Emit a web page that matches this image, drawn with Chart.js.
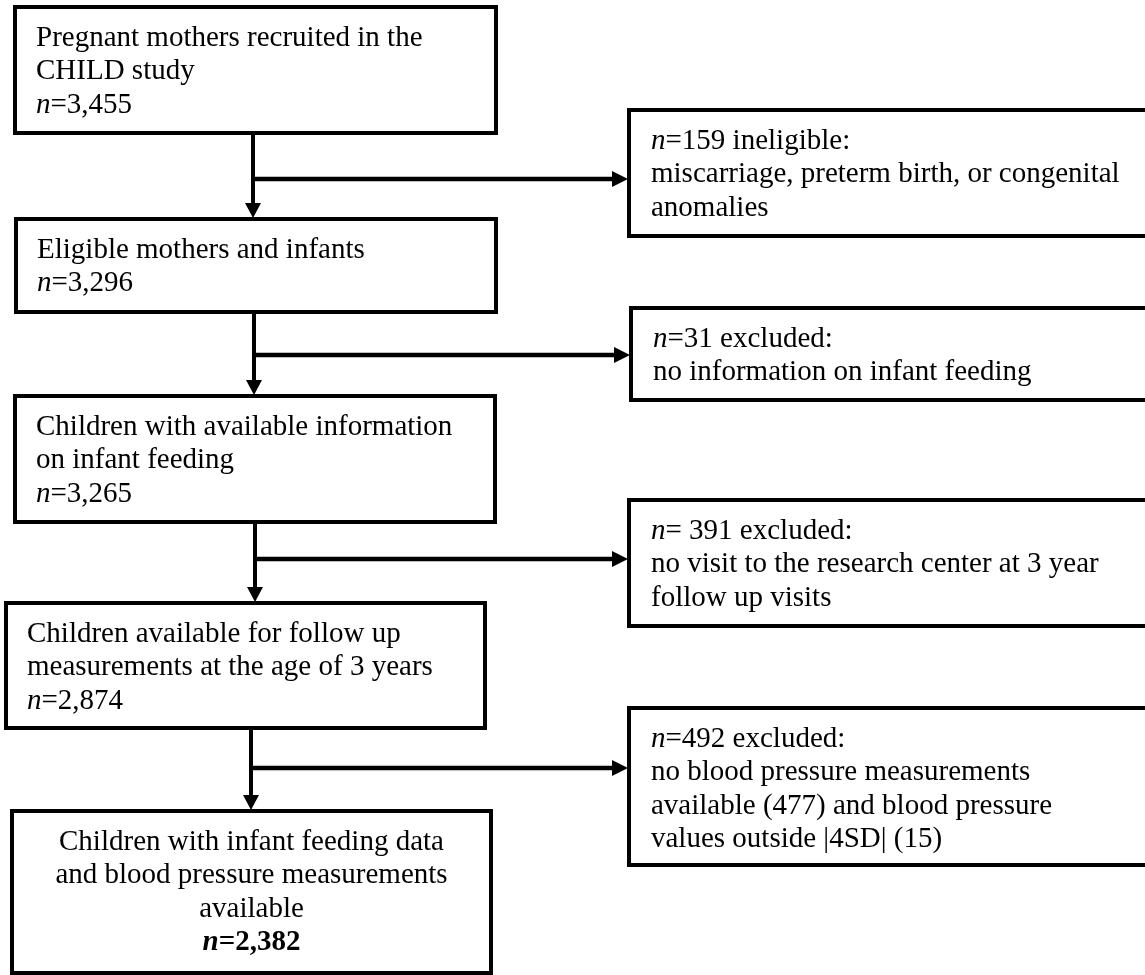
<!DOCTYPE html>
<html>
<head>
<meta charset="utf-8">
<script src="https://cdn.jsdelivr.net/npm/chart.js@4.4.1/dist/chart.umd.min.js"></script>
<style>
  html, body { margin: 0; padding: 0; background: #fff; }
  #wrap { width: 1145px; height: 975px; }
</style>
</head>
<body>
<div id="wrap"><canvas id="flow" width="1145" height="975"></canvas></div>
<script>
// Stages of the cohort (left column)
const stageText = [
    ['Pregnant mothers recruited in the', 'CHILD study'],
    ['Eligible mothers and infants'],
    ['Children with available information', 'on infant feeding'],
    ['Children available for follow up', 'measurements at the age of 3 years'],
    ['Children with infant feeding data', 'and blood pressure measurements', 'available']
];
const stageN = [3455, 3296, 3265, 2874, 2382];

// Exclusions (right column)
const exclN = [159, 31, 391, 492];
const exclGap = ['', '', ' ', ''];
const exclHead = ['ineligible:', 'excluded:', 'excluded:', 'excluded:'];
const exclText = [
    ['miscarriage, preterm birth, or congenital', 'anomalies'],
    ['no information on infant feeding'],
    ['no visit to the research center at 3 year', 'follow up visits'],
    ['no blood pressure measurements', 'available (477) and blood pressure', 'values outside |4SD| (15)']
];

// Layout (chart units = pixels of the original figure)
const leftBoxes = [
    [15, 7, 496, 133],
    [16, 219, 496, 312],
    [15, 396, 495, 522],
    [6, 603, 485, 728],
    [12, 811, 491, 973]
];
const rightBoxes = [
    [629, 110, 1149, 236],
    [631, 308, 1149, 400],
    [629, 500, 1149, 626],
    [629, 708, 1149, 865]
];
const trunkX = [253, 254, 255, 251];
const branchY = [179, 355, 559, 768];

const FONT = '"Liberation Serif", "Times New Roman", serif';
const SIZE = 29;
const LINE = 33.5;

function fmt(v) { return v.toLocaleString('en-US'); }

function drawRuns(ctx, runs, x, y, align) {
    let total = 0;
    runs.forEach(r => { ctx.font = r.font; total += ctx.measureText(r.text).width; });
    let cx = align === 'center' ? x - total / 2 : x;
    runs.forEach(r => {
        ctx.font = r.font;
        ctx.fillText(r.text, cx, y);
        cx += ctx.measureText(r.text).width;
    });
}

const flowPlugin = {
    id: 'flow',
    afterDraw(chart) {
        const ctx = chart.ctx;
        const sx = chart.scales.x, sy = chart.scales.y;
        const px = v => sx.getPixelForValue(v);
        const py = v => sy.getPixelForValue(v);
        const normal = `${SIZE}px ${FONT}`;
        const italic = `italic ${SIZE}px ${FONT}`;
        ctx.save();
        ctx.fillStyle = '#000';
        ctx.strokeStyle = '#000';
        ctx.textBaseline = 'middle';

        function box(b) {
            ctx.lineWidth = 4;
            ctx.strokeRect(px(b[0]), py(b[1]), px(b[2]) - px(b[0]), py(b[3]) - py(b[1]));
        }

        // left column boxes
        leftBoxes.forEach((b, i) => {
            box(b);
            const last = i === stageText.length - 1;
            const tx = last ? px((b[0] + b[2]) / 2) : px(b[0]) + 21;
            const align = last ? 'center' : 'left';
            let ty = py(b[1]) + 31;
            stageText[i].forEach(line => {
                drawRuns(ctx, [{ text: line, font: normal }], tx, ty, align);
                ty += LINE;
            });
            const nRuns = last
                ? [{ text: 'n', font: `italic bold ${SIZE}px ${FONT}` }, { text: '=' + fmt(stageN[i]), font: `bold ${SIZE}px ${FONT}` }]
                : [{ text: 'n', font: italic }, { text: '=' + fmt(stageN[i]), font: normal }];
            drawRuns(ctx, nRuns, tx, ty, align);
        });

        // right column boxes
        rightBoxes.forEach((b, i) => {
            box(b);
            const tx = px(b[0]) + 22;
            let ty = py(b[1]) + 31;
            drawRuns(ctx, [
                { text: 'n', font: italic },
                { text: '=' + exclGap[i] + fmt(exclN[i]) + ' ' + exclHead[i], font: normal }
            ], tx, ty, 'left');
            exclText[i].forEach(line => {
                ty += LINE;
                drawRuns(ctx, [{ text: line, font: normal }], tx, ty, 'left');
            });
        });

        // connectors
        trunkX.forEach((x, i) => {
            const top = py(leftBoxes[i][3]);
            const bot = py(leftBoxes[i + 1][1]) - 1;
            const X = px(x);
            const head = 15, half = 8;
            ctx.lineWidth = 4;
            ctx.beginPath();
            ctx.moveTo(X, top);
            ctx.lineTo(X, bot - head + 1);
            ctx.stroke();
            ctx.beginPath();
            ctx.moveTo(X - half, bot - head);
            ctx.lineTo(X + half, bot - head);
            ctx.lineTo(X, bot);
            ctx.closePath();
            ctx.fill();

            const Y = py(branchY[i]);
            const tip = px(rightBoxes[i][0]) - 1;
            ctx.lineWidth = 4.5;
            ctx.beginPath();
            ctx.moveTo(X, Y);
            ctx.lineTo(tip - head + 1, Y);
            ctx.stroke();
            ctx.beginPath();
            ctx.moveTo(tip - head - 1, Y - 8);
            ctx.lineTo(tip - head - 1, Y + 8);
            ctx.lineTo(tip, Y);
            ctx.closePath();
            ctx.fill();
        });
        ctx.restore();
    }
};

new Chart(document.getElementById('flow').getContext('2d'), {
    type: 'scatter',
    data: { datasets: [{ data: [], pointRadius: 0 }] },
    options: {
        responsive: false,
        animation: false,
        devicePixelRatio: 1,
        layout: { padding: 0 },
        plugins: { legend: { display: false }, tooltip: { enabled: false } },
        scales: {
            x: { type: 'linear', min: 0, max: 1145, display: false },
            y: { type: 'linear', min: 0, max: 975, reverse: true, display: false }
        }
    },
    plugins: [flowPlugin]
});
</script>
</body>
</html>
